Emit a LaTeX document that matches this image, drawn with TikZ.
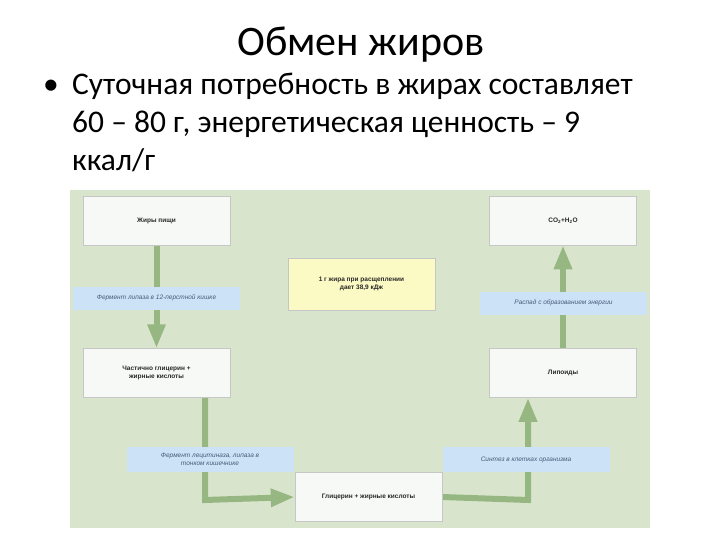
\documentclass[tikz,border=0pt]{standalone}
\usepackage{fontspec}
\setmainfont{Carlito}
\newfontfamily\arialf{Liberation Sans}
\usetikzlibrary{arrows.meta}
\definecolor{panel}{RGB}{216,229,204}
\definecolor{boxf}{RGB}{246,249,246}
\definecolor{lbl}{RGB}{204,226,246}
\definecolor{yel}{RGB}{252,250,196}
\definecolor{arr}{RGB}{150,182,130}
\definecolor{txt}{RGB}{40,40,40}
\definecolor{ltxt}{RGB}{70,90,120}
\begin{document}
\begin{tikzpicture}[x=1pt,y=-1pt,
  box/.style={fill=boxf,draw=gray!45,line width=0.5pt,minimum width=147pt,minimum height=49pt,font=\arialf\fontsize{6.5}{8}\selectfont\bfseries,text=txt,align=center},
  lab/.style={fill=lbl,minimum width=167pt,minimum height=23pt,font=\arialf\fontsize{6.5}{8}\selectfont\itshape,text=ltxt,align=center,inner sep=1pt},
  garrow/.style={draw=arr,line width=6pt,-{Triangle[width=17pt,length=24pt]}}]
\path[use as bounding box] (0,0) rectangle (720,540);
\fill[white] (0,0) rectangle (720,540);
\node[font=\fontsize{42}{46}\selectfont] (title) at (361,45) {Обмен жиров};
\node[anchor=north west,align=left,font=\fontsize{31.5}{38}\selectfont,inner sep=0pt] (body) at (43,73)
 {\makebox[29pt][l]{•}Суточная потребность в жирах составляет\\
  \hspace*{29pt}60 – 80 г, энергетическая ценность – 9\\
  \hspace*{29pt}ккал/г};
\fill[panel] (70,190) rectangle (650,528);
\coordinate (c1) at (205,500);
\coordinate (c2) at (528,500);
\node[box] (a) at (156.5,220.5) {Жиры пищи};
\node[box] (b) at (156.5,373) {Частично глицерин +\\жирные кислоты};
\node[box] (g) at (368.5,497) {Глицерин + жирные кислоты};
\node[box] (l) at (563,373) {Липоиды};
\node[box] (co) at (563,220.5) {CO\textsubscript{2}+H\textsubscript{2}O};
\draw[garrow] (a.south) -- (b.north);
\draw[garrow] (b.south -| c1) -- (c1) -- (g.west);
\draw[garrow] (g.east) -- (c2) -- (l.south -| c2);
\draw[garrow] (l.north) -- (co.south);
\node[box] at (a) {Жиры пищи};
\node[box] at (b) {Частично глицерин +\\жирные кислоты};
\node[box] at (g) {Глицерин + жирные кислоты};
\node[box] at (l) {Липоиды};
\node[box] at (co) {CO\textsubscript{2}+H\textsubscript{2}O};
\node[box,fill=yel,minimum height=52pt] (y) at (361.5,284) {1 г жира при расщеплении\\дает 38,9 кДж};
\node[lab] (l1) at (156.5,298) {Фермент липаза в 12-перстной кишке};
\node[lab] (l2) at (563.5,303) {Распад с образованием энергии};
\node[lab,minimum height=25pt] (l3) at (210,459.5) {Фермент лецитиназа, липаза в\\тонком кишечнике};
\node[lab,minimum height=25pt] (l4) at (526,459.5) {Синтез в клетках организма};
\end{tikzpicture}
\end{document}
